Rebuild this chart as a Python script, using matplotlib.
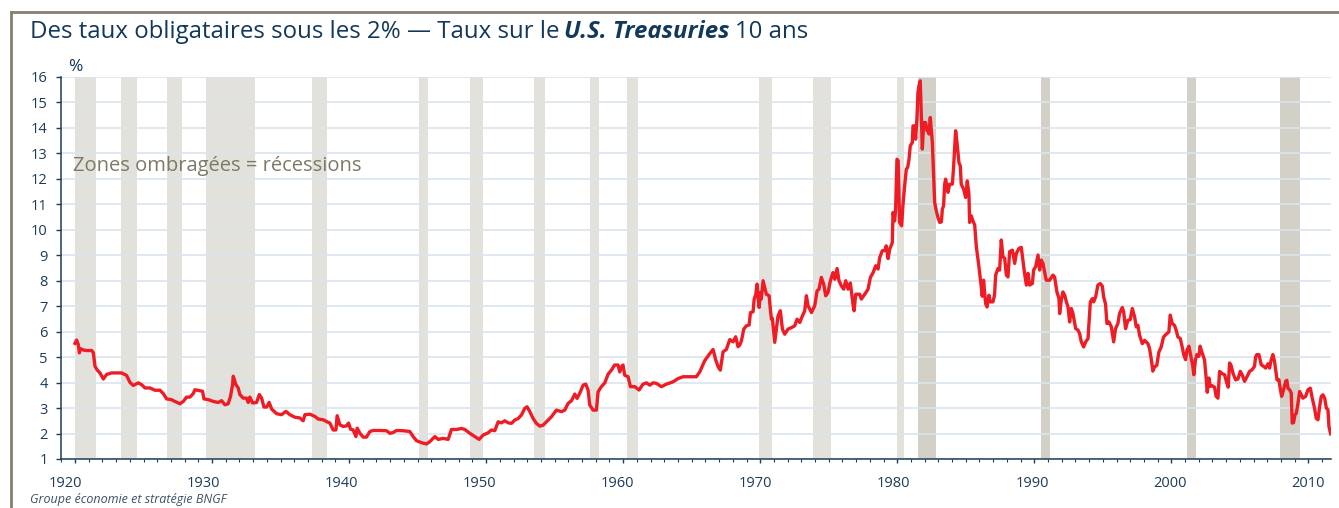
import matplotlib
matplotlib.use("Agg")
import matplotlib.pyplot as plt
import matplotlib.transforms as mtransforms
from matplotlib.lines import Line2D
from matplotlib.ticker import MultipleLocator

plt.rcParams["font.family"] = ["Open Sans", "DejaVu Sans"]

# 10-year U.S. Treasury yield, %
years = [
    1920.00, 1920.12, 1920.24, 1920.32, 1920.41, 1920.61, 1920.85, 1921.22, 1921.34, 1921.46,
    1921.63, 1921.82, 1922.07, 1922.31, 1922.67, 1923.04, 1923.40, 1923.77, 1924.01, 1924.25,
    1924.62, 1924.86, 1925.11, 1925.47, 1925.84, 1926.20, 1926.44, 1926.69, 1927.05, 1927.29,
    1927.66, 1927.90, 1928.14, 1928.39, 1928.63, 1928.75, 1929.12, 1929.31, 1929.41, 1929.73,
    1930.09, 1930.45, 1930.70, 1930.94, 1931.18, 1931.35, 1931.50, 1931.55, 1931.74, 1931.91,
    1932.03, 1932.28, 1932.52, 1932.64, 1932.76, 1932.96, 1933.25, 1933.45, 1933.62, 1933.79,
    1933.98, 1934.17, 1934.35, 1934.71, 1935.07, 1935.39, 1935.68, 1936.05, 1936.41, 1936.65,
    1936.78, 1937.14, 1937.51, 1937.75, 1938.11, 1938.36, 1938.60, 1938.84, 1939.04, 1939.13,
    1939.33, 1939.57, 1939.82, 1939.96, 1940.11, 1940.30, 1940.50, 1940.59, 1940.79, 1941.03,
    1941.27, 1941.52, 1941.76, 1942.25, 1942.73, 1942.98, 1943.22, 1943.46, 1943.95, 1944.43,
    1944.68, 1944.92, 1945.29,
    1945.65, 1945.89, 1946.26, 1946.50, 1946.87, 1947.23, 1947.47, 1947.84, 1948.20, 1948.44,
    1948.81, 1949.18, 1949.49, 1949.78, 1950.15, 1950.39, 1950.63, 1950.88, 1951.12, 1951.36,
    1951.61, 1951.85, 1952.09, 1952.34, 1952.58, 1952.82, 1952.99, 1953.19, 1953.43, 1953.67,
    1953.92, 1954.16, 1954.40, 1954.77, 1955.13, 1955.50, 1955.74, 1955.98, 1956.23, 1956.47,
    1956.64, 1956.83, 1957.08, 1957.27, 1957.44, 1957.56, 1957.81, 1958.05, 1958.17, 1958.41,
    1958.66, 1958.90, 1959.14, 1959.38, 1959.63, 1959.75, 1959.87, 1959.99, 1960.11, 1960.36,
    1960.53, 1960.85, 1961.16, 1961.45, 1961.70, 1961.94, 1962.18, 1962.43, 1962.79, 1963.16,
    1963.64, 1964.01, 1964.37, 1964.86, 1965.34, 1965.59, 1965.95, 1966.32, 1966.56, 1966.76,
    1966.93, 1967.09, 1967.29, 1967.53, 1967.78, 1968.02, 1968.21, 1968.38,
    1968.50, 1968.63, 1968.80, 1968.99, 1969.19, 1969.29, 1969.48, 1969.56, 1969.68, 1969.77,
    1969.85, 1969.92, 1970.01, 1970.08, 1970.21, 1970.33, 1970.45, 1970.65, 1970.74, 1970.82,
    1970.89, 1970.98, 1971.06, 1971.18, 1971.30, 1971.47, 1971.62, 1971.79, 1972.03, 1972.28,
    1972.52, 1972.69, 1972.89, 1973.08, 1973.25, 1973.37, 1973.49, 1973.74, 1973.98, 1974.15,
    1974.29, 1974.46, 1974.63, 1974.78, 1974.95, 1975.12, 1975.31, 1975.44, 1975.61, 1975.75,
    1975.92, 1976.09, 1976.24, 1976.41, 1976.58, 1976.77, 1976.85, 1976.97, 1977.26, 1977.38,
    1977.63, 1977.87, 1978.04, 1978.24, 1978.43, 1978.60, 1978.72, 1978.91, 1979.08, 1979.20,
    1979.33, 1979.45, 1979.64, 1979.69, 1979.81, 1979.88, 1979.98, 1980.07, 1980.17, 1980.32,
    1980.41, 1980.54, 1980.66, 1980.76, 1980.86, 1980.95, 1981.10, 1981.15, 1981.27, 1981.34,
    1981.44, 1981.51, 1981.58, 1981.68, 1981.76, 1981.83, 1981.93, 1982.07, 1982.17, 1982.24,
    1982.31, 1982.41, 1982.56, 1982.65, 1982.73, 1982.85, 1982.97, 1983.10, 1983.22, 1983.29,
    1983.38, 1983.46, 1983.53, 1983.70, 1983.82, 1984.02, 1984.11, 1984.26, 1984.36, 1984.50,
    1984.60, 1984.67, 1984.84, 1984.99, 1985.11, 1985.23, 1985.28, 1985.40, 1985.52,
    1985.65, 1985.77, 1985.96, 1986.13, 1986.20, 1986.30, 1986.45, 1986.55, 1986.69, 1986.79,
    1986.98, 1987.10, 1987.18, 1987.35, 1987.47, 1987.59, 1987.71, 1987.84, 1987.96, 1988.08,
    1988.20, 1988.40, 1988.57, 1988.69, 1988.88, 1989.05, 1989.17, 1989.29, 1989.42, 1989.54,
    1989.66, 1989.86, 1989.95, 1990.10, 1990.27, 1990.39, 1990.51, 1990.63, 1990.75, 1990.87,
    1991.12, 1991.36, 1991.48, 1991.65, 1991.80, 1991.85, 1991.97, 1992.09, 1992.22, 1992.34,
    1992.46, 1992.58, 1992.70, 1992.82, 1993.02, 1993.19, 1993.31, 1993.43, 1993.60, 1993.75,
    1993.92, 1994.09, 1994.24, 1994.33, 1994.48, 1994.64, 1994.81, 1994.96, 1995.06, 1995.20,
    1995.30, 1995.45, 1995.62, 1995.79, 1995.93, 1996.10, 1996.22, 1996.42, 1996.52, 1996.66,
    1996.83, 1997.00, 1997.15, 1997.32, 1997.44, 1997.56, 1997.68, 1997.88, 1998.05, 1998.29,
    1998.41, 1998.53, 1998.65, 1998.77, 1998.94, 1999.09, 1999.26, 1999.43, 1999.62, 1999.82,
    1999.92, 2000.06, 2000.23, 2000.35, 2000.48, 2000.65, 2000.79, 2000.92, 2001.04, 2001.14,
    2001.28,
    2001.45, 2001.57, 2001.64, 2001.76, 2001.86, 2002.01, 2002.10, 2002.25, 2002.42, 2002.54,
    2002.62, 2002.74, 2002.84, 2002.98, 2003.15, 2003.27, 2003.40, 2003.52, 2003.71, 2003.88,
    2004.05, 2004.15, 2004.25, 2004.37, 2004.49, 2004.69, 2004.86, 2005.03, 2005.17, 2005.34,
    2005.51, 2005.71, 2005.90, 2006.07, 2006.15, 2006.24, 2006.39, 2006.56, 2006.68, 2006.88,
    2007.05, 2007.17, 2007.29, 2007.41, 2007.53, 2007.61, 2007.71, 2007.85, 2007.95, 2008.05,
    2008.19, 2008.34, 2008.43, 2008.51, 2008.63, 2008.75, 2008.82, 2008.92, 2009.02, 2009.12,
    2009.24, 2009.36, 2009.48, 2009.60, 2009.80, 2009.97, 2010.14, 2010.28, 2010.45, 2010.57,
    2010.70, 2010.82, 2010.94, 2011.06, 2011.19, 2011.31, 2011.43, 2011.50, 2011.62,
]
rates = [
    5.54, 5.67, 5.50, 5.17, 5.33, 5.28, 5.26, 5.26, 5.17, 4.64,
    4.49, 4.38, 4.14, 4.32, 4.38, 4.38, 4.38, 4.28, 4.01, 3.89,
    3.99, 3.92, 3.79, 3.79, 3.70, 3.70, 3.57, 3.36, 3.33, 3.26,
    3.17, 3.26, 3.43, 3.43, 3.57, 3.72, 3.68, 3.66, 3.36, 3.33,
    3.26, 3.22, 3.29, 3.13, 3.17, 3.46, 3.92, 4.25, 3.92, 3.79,
    3.53, 3.39, 3.39, 3.22, 3.43, 3.20, 3.22, 3.53, 3.39, 3.04,
    3.04, 3.22, 2.96, 2.78, 2.74, 2.87, 2.74, 2.64, 2.61, 2.50,
    2.74, 2.76, 2.67, 2.57, 2.54, 2.47, 2.41, 2.14, 2.14, 2.70,
    2.34, 2.28, 2.30, 2.41, 2.17, 2.14, 1.88, 2.21, 2.01, 1.86,
    1.86, 2.08, 2.12, 2.12, 2.11, 2.01, 2.04, 2.12, 2.11, 2.08,
    1.88, 1.72, 1.64,
    1.59, 1.68, 1.88, 1.77, 1.81, 1.77, 2.16, 2.16, 2.20, 2.16,
    2.01, 1.88, 1.77, 1.94, 2.03, 2.14, 2.11, 2.46, 2.42, 2.50,
    2.42, 2.40, 2.53, 2.59, 2.73, 2.99, 3.05, 2.86, 2.59, 2.40,
    2.29, 2.33, 2.46, 2.66, 2.92, 2.86, 2.92, 3.18, 3.29, 3.55,
    3.38, 3.58, 3.90, 3.94, 3.71, 3.12, 2.92, 2.92, 3.64, 3.84,
    3.99, 4.33, 4.49, 4.69, 4.69, 4.42, 4.62, 4.69, 4.29, 4.23,
    3.84, 3.84, 3.71, 3.94, 3.99, 3.90, 3.99, 3.97, 3.84, 3.94,
    4.03, 4.16, 4.23, 4.23, 4.23, 4.42, 4.86, 5.14, 5.30, 4.88,
    4.62, 4.49, 5.21, 5.30, 5.69, 5.60, 5.80, 5.41,
    5.47, 5.64, 6.10, 6.23, 6.26, 6.75, 6.78, 7.28, 7.47, 7.87,
    7.28, 6.95, 7.54, 7.28, 8.00, 7.74, 7.47, 7.41, 6.88, 6.49,
    6.52, 6.03, 5.58, 6.10, 6.62, 6.82, 6.10, 5.90, 6.10, 6.16,
    6.23, 6.49, 6.36, 6.62, 6.82, 7.41, 7.02, 6.75, 7.02, 7.60,
    7.67, 8.13, 7.87, 7.41, 7.54, 8.00, 8.32, 8.06, 8.48, 8.00,
    7.80, 7.67, 8.00, 7.67, 7.91, 7.08, 6.82, 7.47, 7.47, 7.28,
    7.47, 7.67, 8.13, 8.32, 8.59, 8.46, 8.91, 9.18, 9.18, 9.37,
    8.87, 9.24, 9.50, 10.68, 10.35, 10.81, 12.77, 12.71, 10.29, 10.16,
    10.94, 11.73, 12.38, 12.45, 12.77, 13.30, 13.43, 14.08, 14.08, 13.56,
    14.41, 15.39, 15.65, 15.85, 14.35, 13.17, 14.21, 14.21, 13.89, 13.89,
    13.76, 14.41, 13.43, 12.12, 11.07, 10.75, 10.48, 10.29, 10.31, 10.81,
    10.94, 11.79, 11.99, 11.47, 11.79, 11.79, 12.45, 13.89, 13.43, 12.64,
    12.51, 11.79, 11.60, 11.27, 11.92, 11.40, 10.29, 10.55, 10.35,
    10.19, 9.34, 8.55, 7.76, 7.39, 8.02, 7.10, 6.97, 7.43, 7.17,
    7.17, 7.43, 8.22, 8.48, 8.42, 9.60, 8.94, 8.88, 8.22, 8.15,
    9.14, 9.20, 8.68, 9.07, 9.27, 9.31, 8.81, 8.29, 7.83, 8.29,
    7.83, 7.89, 8.42, 8.55, 9.01, 8.42, 8.81, 8.68, 8.35, 8.02,
    8.02, 8.22, 8.15, 7.56, 7.30, 6.71, 7.24, 7.56, 7.43, 7.17,
    6.97, 6.38, 6.91, 6.71, 6.12, 6.06, 5.92, 5.60, 5.40, 5.60,
    5.73, 7.17, 7.30, 7.17, 7.37, 7.83, 7.89, 7.79, 7.37, 7.08,
    6.32, 6.38, 6.19, 5.60, 6.12, 6.32, 6.71, 6.95, 6.78, 6.12,
    6.45, 6.47, 6.91, 6.58, 6.19, 6.25, 5.86, 5.53, 5.66, 5.53,
    5.33, 4.94, 4.45, 4.61, 4.68, 5.20, 5.40, 5.79, 5.90, 5.99,
    6.65, 6.32, 6.25, 6.06, 5.79, 5.73, 5.40, 5.07, 4.90, 5.27,
    5.43,
    4.97, 4.64, 4.31, 4.90, 5.10, 5.03, 5.43, 5.16, 4.90, 4.18,
    3.62, 4.18, 3.85, 3.88, 3.82, 3.46, 3.39, 4.44, 4.35, 4.31,
    3.98, 3.82, 4.77, 4.66, 4.38, 4.11, 4.14, 4.44, 4.31, 4.05,
    4.22, 4.44, 4.51, 4.64, 5.01, 5.10, 5.10, 4.70, 4.66, 4.57,
    4.74, 4.57, 4.90, 5.10, 4.83, 4.51, 4.11, 4.11, 3.75, 3.46,
    3.72, 4.05, 4.09, 3.78, 3.72, 3.59, 2.41, 2.43, 2.73, 2.80,
    3.19, 3.65, 3.52, 3.39, 3.46, 3.72, 3.78, 3.39, 3.00, 2.60,
    2.54, 3.06, 3.46, 3.52, 3.39, 3.00, 2.93, 2.28, 1.99,
]

# US recessions (NBER), shaded
rec_light_start = [1920.00, 1923.33, 1926.75, 1929.58, 1937.33, 1945.08, 1948.83, 1953.50,
                   1957.58, 1960.25, 1969.92, 1973.83, 1980.00]
rec_light_end = [1921.50, 1924.50, 1927.83, 1933.17, 1938.42, 1945.75, 1949.75, 1954.33,
                 1958.25, 1961.08, 1970.83, 1975.17, 1980.50]
rec_dark_start = [1981.50, 1990.50, 2001.17, 2007.92]
rec_dark_end = [1982.83, 1991.17, 2001.83, 2009.42]

decades = list(range(1920, 2011, 10))
y_ticks = list(range(1, 17))

navy = "#12385a"
tick_col = "#1d3c5a"
red = "#ee1c25"
grid_col = "#dbe5ee"
light_bar = "#e2e1dc"
dark_bar = "#d3d0c7"
note_col = "#7e7967"

W, H = 1339, 508
fig = plt.figure(figsize=(W / 100, H / 100), dpi=100)
ax = fig.add_axes([61 / W, 1 - 459 / H, (1331 - 61) / W, (459 - 77) / H])

for s, e in zip(rec_light_start, rec_light_end):
    ax.axvspan(s, e, color=light_bar, lw=0, zorder=1)
for s, e in zip(rec_dark_start, rec_dark_end):
    ax.axvspan(s, e, color=dark_bar, lw=0, zorder=1)

ax.plot(years, rates, color=red, lw=2.4, zorder=3, solid_joinstyle="round")

ax.set_xlim(1918.98, 2011.65)
ax.set_ylim(1, 16)
ax.set_axisbelow("line")
ax.set_yticks(y_ticks)
ax.yaxis.grid(True, color=grid_col, lw=1.2)
ax.set_xticks(decades)
ax.xaxis.set_minor_locator(MultipleLocator(1))

for side in ["top", "right"]:
    ax.spines[side].set_visible(False)
for side in ["left", "bottom"]:
    ax.spines[side].set_color(tick_col)
    ax.spines[side].set_linewidth(1.1)

ax.tick_params(axis="y", length=3.5, width=1, color=tick_col, pad=6,
               labelsize=10.5, labelcolor=tick_col)
ax.tick_params(axis="x", which="major", length=3, width=1, color=tick_col, pad=9,
               labelsize=10.5, labelcolor=tick_col)
ax.tick_params(axis="x", which="minor", length=2, width=0.8, color=tick_col)

# decade labels in the original drift slightly left toward the early years
for d, lab in zip(decades, ax.get_xticklabels()):
    dx = -10 * (2010 - d) / 90 / 100
    lab.set_transform(lab.get_transform() + mtransforms.ScaledTranslation(dx, 0, fig.dpi_scale_trans))

ax.text(1919.85, 12.5, "Zones ombragées = récessions", fontsize=14.5, color=note_col,
        va="center", ha="left")
fig.text(68 / W, 1 - 71 / H, "%", fontsize=12.5, color=navy, va="baseline")

# title in three pieces so the middle one can be bold italic
ty = 1 - 38 / H
fs = 17.3
t1 = fig.text(30 / W, ty, "Des taux obligataires sous les 2% — Taux sur le", fontsize=fs,
              color=navy, va="baseline")
fig.canvas.draw()
r = fig.canvas.get_renderer()
sp = 5
x1 = t1.get_window_extent(r).x1 + sp
t2 = fig.text(x1 / W, ty, "U.S. Treasuries", fontsize=fs, color=navy, va="baseline",
              fontweight="bold", fontstyle="italic")
x2 = t2.get_window_extent(r).x1 + sp
fig.text(x2 / W, ty, "10 ans", fontsize=fs, color=navy, va="baseline")

fig.text(30 / W, 1 - 503 / H, "Groupe économie et stratégie BNGF", fontsize=9,
         fontstyle="italic", color="#3d5166", va="baseline")

# frame of the original figure, its right and bottom sides fall outside the picture
fig.add_artist(Line2D([10.5 / W, 10.5 / W], [0, 1 - 12 / H], transform=fig.transFigure,
                      color="#85816e", lw=2))
fig.add_artist(Line2D([10.5 / W, 1], [1 - 12 / H, 1 - 12 / H], transform=fig.transFigure,
                      color="#85816e", lw=2))

fig.savefig("out.png", dpi=100)
